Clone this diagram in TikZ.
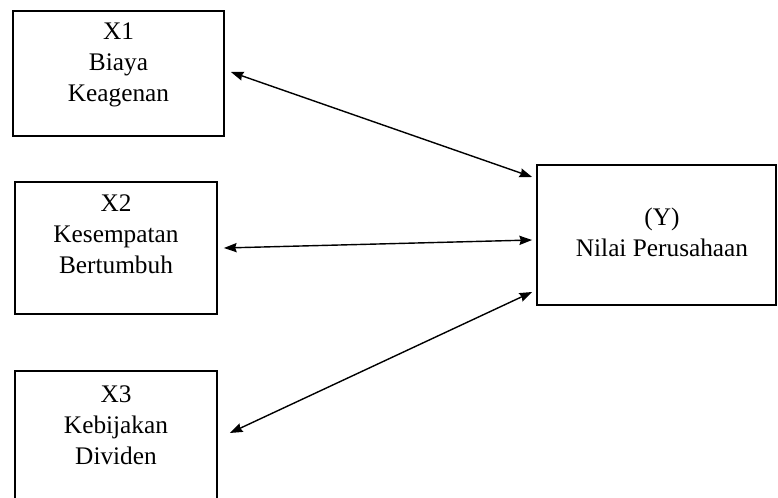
\documentclass[tikz,border=0pt]{standalone}
\usepackage{fontspec}
\setmainfont{Liberation Serif}
\usetikzlibrary{arrows.meta}

\begin{document}
\begin{tikzpicture}[
    x=0.025cm, y=-0.025cm,
    block/.style={draw, line width=1.3pt, inner sep=0pt},
    boxlabel/.style={align=center, font=\fontsize{18}{22}\selectfont},
    link/.style={<->, line width=1pt},
    >={Stealth[length=9pt,width=6.5pt,inset=1pt]}
]
\useasboundingbox (0,0) rectangle (778,498);
\clip (0,0) rectangle (778,498);

% --- X1 ---
\node[block, minimum width=211*0.025cm, minimum height=125*0.025cm] (x1) at (118.5,73.5) {};
\node[boxlabel] (x1txt) at (118.5,65) {X1\\Biaya\\Keagenan};

% --- X2 ---
\node[block, minimum width=202*0.025cm, minimum height=132*0.025cm] (x2) at (116,248) {};
\node[boxlabel] (x2txt) at (116,234) {X2\\Kesempatan\\Bertumbuh};

% --- X3 ---
\node[block, minimum width=202*0.025cm, minimum height=139*0.025cm] (x3) at (116,440.5) {};
\node[boxlabel] (x3txt) at (116,425) {X3\\Kebijakan\\Dividen};

% --- Y ---
\node[block, minimum width=239*0.025cm, minimum height=140*0.025cm] (res) at (656.5,235) {};
\node[boxlabel] (restxt) at (662,232) {(Y)\\Nilai Perusahaan};

% links
\draw[link] ([shift={(6,-1.5)}]x1.east) -- ([shift={(-4,-58)}]res.west);
\draw[link] ([shift={(6,0)}]x2.east) -- ([shift={(-4,5)}]res.west);
\draw[link] ([shift={(12,-7.5)}]x3.east) -- ([shift={(-4,57)}]res.west);

\end{tikzpicture}
\end{document}
